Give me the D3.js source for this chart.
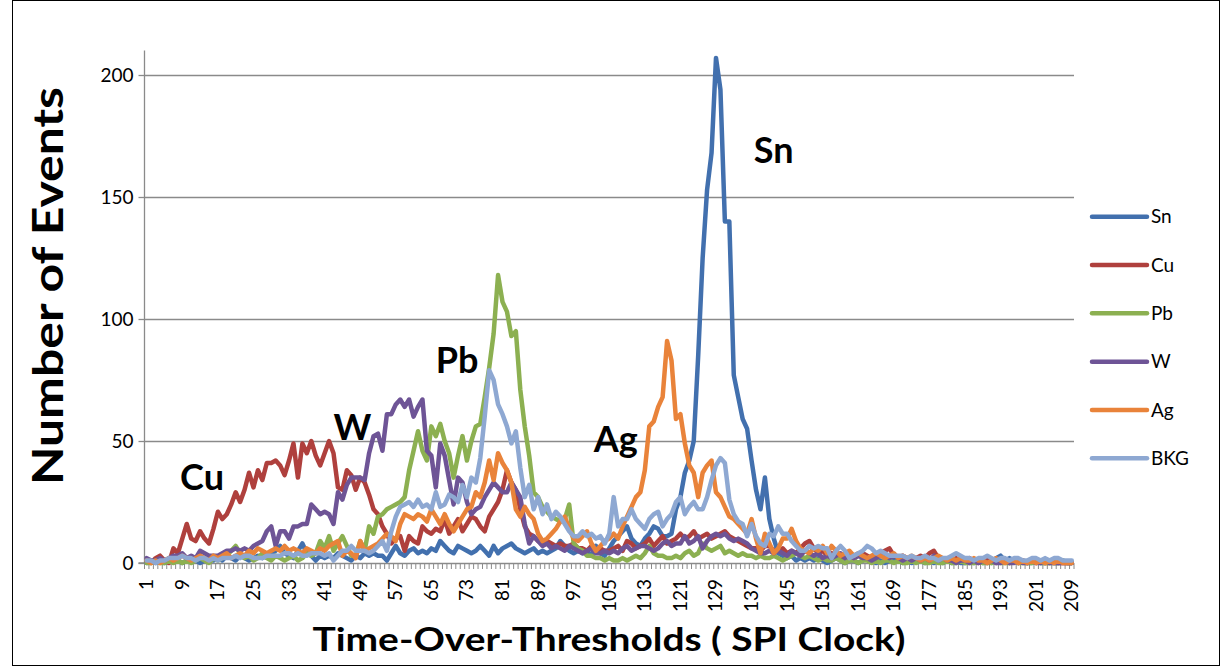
<!DOCTYPE html>
<html>
<head>
<meta charset="utf-8">
<script src="https://d3js.org/d3.v7.min.js"></script>
<style>
  html, body { margin: 0; padding: 0; background: #fff; }
  svg { display: block; }
  text { font-family: Lato, "Open Sans", "Liberation Sans", sans-serif; fill: #000; }
</style>
</head>
<body>
<svg id="chart" width="1222" height="667"></svg>
<script>
// ---------------- DATA ----------------
const categories = d3.range(1, 210); // 1 .. 209
const tickLabels = [1, 9, 17, 25, 33, 41, 49, 57, 65, 73, 81, 89, 97, 105, 113, 121, 129, 137, 145, 153, 161, 169, 177, 185, 193, 201, 209];
const yTicks = [0, 50, 100, 150, 200];
const seriesNames = ["Sn", "Cu", "Pb", "W", "Ag", "BKG"];
const seriesColors = ["#4270AE", "#AF403D", "#8CB051", "#6E5496", "#E9833A", "#8EA8D2"];

const Sn = [
  0,1,0,1,0,1,2,1,0,1,
  2,1,0,1,2,1,2,1,3,2,
  1,3,2,1,2,3,2,3,4,5,
  7,4,3,2,5,8,4,3,1,3,
  2,3,2,4,3,2,1,3,2,4,
  3,4,3,3,1,4,7,4,3,5,
  6,4,5,4,6,5,9,7,5,4,
  7,6,5,4,5,7,5,3,7,4,
  6,7,8,6,5,4,5,6,4,5,
  4,5,6,9,7,5,4,5,4,5,
  3,7,4,3,6,9,11,13,15,10,
  8,7,10,12,15,14,11,11,12,22,
  27,37,42,50,85,125,153,168,207,194,
  140,140,77,68,59,55,42,30,22,35,
  18,10,4,3,2,3,1,2,1,2,
  1,2,1,0,1,2,1,0,1,1,
  0,1,2,1,0,1,0,1,2,1,
  0,1,0,1,1,0,1,0,1,0,
  1,0,1,0,0,1,0,1,0,1,
  0,2,3,1,2,1,0,1,0,0,
  1,0,0,1,0,0,1,0,0
];
const Cu = [
  1,0,2,3,1,0,6,4,10,16,
  10,9,13,10,8,14,21,18,20,24,
  29,25,30,37,31,38,34,41,41,42,
  40,36,42,49,35,49,45,50,44,40,
  45,50,45,31,30,38,36,30,35,33,
  28,22,20,15,12,8,10,11,5,11,
  9,8,15,13,12,14,13,18,12,15,
  18,13,16,19,18,15,13,19,22,25,
  30,38,33,30,22,15,12,11,9,8,
  9,8,7,8,7,7,8,6,6,5,
  7,5,6,5,5,6,7,5,9,8,
  6,7,8,10,7,9,11,8,9,10,
  12,10,11,13,10,11,12,10,11,12,
  13,11,10,9,8,7,6,6,5,7,
  7,5,5,6,4,5,4,6,8,9,
  6,4,5,3,4,3,2,4,3,2,
  3,4,3,2,3,4,5,6,3,2,
  3,2,1,2,3,2,4,5,2,1,
  2,1,2,1,1,2,1,0,1,2,
  1,0,1,1,0,1,0,1,0,1,
  0,1,0,0,1,0,0,0,0
];
const Pb = [
  0,0,1,0,0,1,0,1,0,1,
  0,1,2,1,0,2,1,2,3,5,
  7,4,2,3,1,2,4,2,1,3,
  2,1,2,3,1,2,4,3,4,9,
  6,11,5,8,11,7,3,3,9,5,
  15,12,19,20,22,23,24,25,27,38,
  46,54,46,42,56,52,57,50,45,35,
  44,52,42,50,56,57,68,80,94,118,
  107,103,93,95,71,56,44,29,27,23,
  21,19,18,17,18,24,8,6,5,3,
  3,2,2,1,2,1,1,2,1,2,
  3,2,4,7,4,3,3,2,2,3,
  2,4,5,3,4,8,6,5,6,7,
  4,5,4,3,4,3,3,2,3,2,
  2,3,2,1,2,3,4,3,2,3,
  2,1,2,1,1,2,1,0,1,1,
  0,1,1,0,1,0,1,1,0,1,
  0,0,1,0,1,0,0,1,0,0,
  1,0,0,1,0,0,0,1,0,0,
  0,1,0,0,0,1,0,0,0,0,
  1,0,0,0,0,0,1,0,0
];
const W = [
  2,1,1,2,1,2,3,3,4,2,
  3,2,5,4,3,3,3,4,5,5,
  6,5,6,5,7,8,9,13,15,7,
  13,13,10,15,15,16,16,24,22,20,
  21,20,16,29,26,32,35,35,35,34,
  45,52,53,46,61,61,65,67,64,67,
  60,64,67,46,44,31,49,44,34,24,
  35,33,25,20,22,23,27,30,33,31,
  29,29,33,30,27,16,8,11,9,7,
  8,6,7,6,5,7,6,5,4,5,
  6,4,4,5,4,5,4,6,7,5,
  6,7,7,6,5,6,8,9,7,8,
  8,11,8,9,11,6,9,11,12,11,
  12,10,9,10,9,8,6,5,4,4,
  5,4,5,4,3,5,4,3,5,4,
  3,4,2,3,2,3,4,2,3,2,
  3,2,2,1,2,3,4,2,3,2,
  1,2,1,2,1,2,1,3,1,2,
  1,1,0,1,1,0,1,0,1,0,
  1,0,0,1,0,0,1,0,0,1,
  0,0,1,0,0,0,0,0,0
];
const Ag = [
  1,0,1,0,1,2,1,2,3,2,
  1,2,3,2,1,3,2,3,4,2,
  3,4,3,5,4,6,5,4,5,6,
  5,7,5,6,5,4,6,5,4,6,
  5,7,8,9,3,5,4,2,9,5,
  6,7,8,10,12,11,9,16,20,19,
  18,20,19,17,22,19,16,20,16,13,
  16,19,22,23,29,27,33,42,34,45,
  41,38,33,22,19,23,20,18,12,9,
  10,12,14,17,19,14,10,9,11,13,
  8,5,7,9,10,12,10,15,19,23,
  27,29,38,56,58,64,68,91,83,59,
  61,49,40,37,27,37,40,42,29,27,
  23,19,18,16,14,12,18,10,4,12,
  8,4,6,10,10,14,9,6,5,4,
  6,5,7,4,7,5,3,4,5,3,
  4,3,2,3,4,3,2,3,4,2,
  3,2,3,2,1,2,1,2,3,2,
  1,2,1,2,1,1,2,1,1,0,
  1,2,1,0,1,1,0,1,0,1,
  0,1,0,1,0,1,0,0,0
];
const BKG = [
  1,1,0,1,1,2,2,2,3,2,
  2,1,2,2,1,2,1,2,2,2,
  3,2,3,3,2,2,2,3,3,3,
  3,4,4,3,4,3,3,4,4,4,
  3,4,1,3,5,5,7,5,5,5,
  4,5,7,9,5,13,19,23,24,25,
  23,26,23,24,22,29,23,24,28,27,
  25,32,27,35,33,43,60,79,75,65,
  61,56,49,54,39,27,32,22,27,20,
  24,18,21,19,16,13,11,11,13,11,
  12,10,11,8,12,27,15,18,18,22,
  18,16,14,18,20,21,15,18,20,25,
  27,20,23,25,22,22,27,34,40,43,
  41,26,20,17,16,11,16,11,8,7,
  12,11,15,12,12,9,7,5,5,7,
  6,7,6,6,2,5,7,5,2,3,
  4,5,7,6,4,5,4,3,3,3,
  3,2,3,2,2,3,2,2,1,2,
  2,3,4,3,2,2,1,2,2,3,
  2,1,2,2,1,2,2,1,1,2,
  2,1,2,1,2,2,1,1,1
];
const seriesValues = [Sn, Cu, Pb, W, Ag, BKG];

// in-chart annotations (label text, category, value at baseline position)
const annoText = ["Sn", "Cu", "W", "Pb", "Ag"];
const annoCat  = [138, 9, 43.5, 66.5, 102];
const annoVal  = [164, 30, 50.5, 78, 45.5];

// ---------------- LAYOUT ----------------
const svg = d3.select("#chart");
const plotLeft = 144.5, plotRight = 1074, plotTop = 50.6, plotBottom = 563;

const x = d3.scaleBand().domain(categories).range([plotLeft, plotRight]).paddingInner(0).paddingOuter(0);
const xc = d3.scaleLinear().domain([1, 210]).range([plotLeft, plotRight]); // for annotation placement
const y = d3.scaleLinear().domain([0, 210]).range([plotBottom, plotTop]);
const bw = x.bandwidth();
const cx = c => x(c) + bw / 2;

// outer chart border
svg.append("rect")
  .attr("x", 12.5).attr("y", 0.5).attr("width", 1207).attr("height", 665)
  .attr("fill", "none").attr("stroke", "#000").attr("stroke-width", 1);

// gridlines
svg.append("g").selectAll("line").data(yTicks.filter(d => d > 0)).join("line")
  .attr("x1", plotLeft).attr("x2", plotRight)
  .attr("y1", d => Math.round(y(d)) + 0.5).attr("y2", d => Math.round(y(d)) + 0.5)
  .attr("stroke", "#8a8a8a").attr("stroke-width", 1.3);

// y axis
const yAxis = d3.axisLeft(y).tickValues(yTicks).tickSize(6).tickPadding(5);
const gy = svg.append("g").attr("transform", `translate(${plotLeft},0)`).call(yAxis);
gy.select(".domain").attr("stroke", "#8a8a8a").attr("stroke-width", 1.3)
  .attr("d", `M-6,${plotBottom}H0V${plotTop}`);
gy.selectAll(".tick line").attr("stroke", "#8a8a8a").attr("stroke-width", 1.3);
gy.selectAll(".tick text").attr("font-size", 19).attr("font-family", "Lato, sans-serif").attr("fill", "#000");

// x axis line + category tick marks at band boundaries
svg.append("line").attr("x1", plotLeft).attr("x2", plotRight)
  .attr("y1", plotBottom + 0.5).attr("y2", plotBottom + 0.5)
  .attr("stroke", "#8a8a8a").attr("stroke-width", 1.3);
svg.append("g").selectAll("line").data(categories.concat([null])).join("line")
  .attr("x1", d => d === null ? plotRight : x(d))
  .attr("x2", d => d === null ? plotRight : x(d))
  .attr("y1", plotBottom).attr("y2", plotBottom + 6)
  .attr("stroke", "#8a8a8a").attr("stroke-width", 1);

// x tick labels (rotated)
svg.append("g").selectAll("text").data(tickLabels).join("text")
  .attr("transform", d => `translate(${cx(d) + 6.5},${plotBottom + 16}) rotate(-90)`)
  .attr("text-anchor", "end")
  .attr("font-size", 19)
  .text(d => d);

// series lines
const line = d3.line().x((d, i) => cx(categories[i])).y(d => y(d));
svg.append("g").selectAll("path").data(seriesValues).join("path")
  .attr("d", d => line(d))
  .attr("fill", "none")
  .attr("stroke", (d, i) => seriesColors[i])
  .attr("stroke-width", 4.5)
  .attr("stroke-linejoin", "round")
  .attr("stroke-linecap", "round");

// annotations
svg.append("g").selectAll("text").data(annoText).join("text")
  .attr("x", (d, i) => xc(annoCat[i]))
  .attr("y", (d, i) => y(annoVal[i]))
  .attr("font-size", 36).attr("font-weight", "bold")
  .text(d => d);

// axis titles
svg.append("text")
  .attr("x", 609).attr("y", 651)
  .attr("text-anchor", "middle")
  .attr("font-size", 32).attr("font-weight", "bold")
  .attr("textLength", 593).attr("lengthAdjust", "spacingAndGlyphs")
  .text("Time-Over-Thresholds ( SPI Clock)");

svg.append("text")
  .attr("transform", "translate(63,286) rotate(-90)")
  .attr("text-anchor", "middle")
  .attr("font-size", 42).attr("font-weight", "bold")
  .attr("textLength", 398).attr("lengthAdjust", "spacingAndGlyphs")
  .text("Number of Events");

// legend
const legendY0 = 216.7, legendStep = 48.33;
const lg = svg.append("g").selectAll("g").data(seriesNames).join("g")
  .attr("transform", (d, i) => `translate(1092,${legendY0 + i * legendStep})`);
lg.append("line").attr("x1", 0).attr("x2", 55).attr("y1", 0).attr("y2", 0)
  .attr("stroke", (d, i) => seriesColors[i]).attr("stroke-width", 4.5).attr("stroke-linecap", "round");
lg.append("text").attr("x", 59).attr("y", 6.5).attr("font-size", 19).text(d => d);
</script>
</body>
</html>
